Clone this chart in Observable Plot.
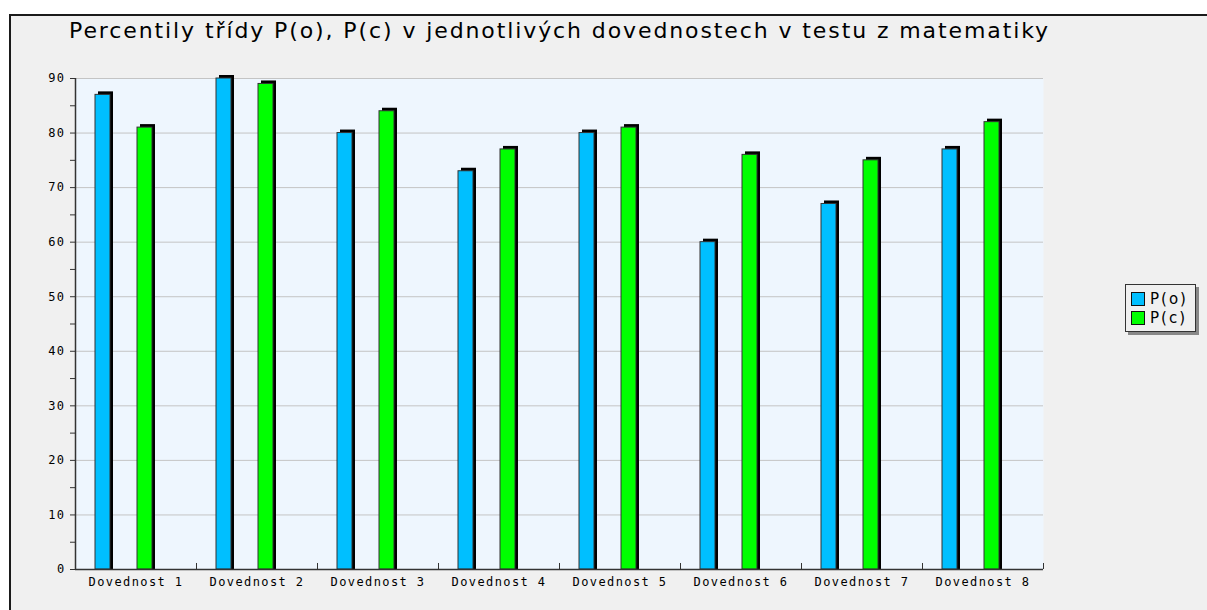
<!DOCTYPE html>
<html>
<head>
<meta charset="utf-8">
<script src="https://cdn.jsdelivr.net/npm/d3@7"></script>
<script src="https://cdn.jsdelivr.net/npm/@observablehq/plot@0.6"></script>
<style>
  html, body { margin: 0; padding: 0; background: #ffffff; }
  #root { position: relative; width: 1207px; height: 610px; overflow: hidden; background: #ffffff; }
  #frame { position: absolute; left: 9px; top: 14px; width: 1210px; height: 610px;
           border-left: 2px solid #1a1a1a; border-top: 2px solid #1a1a1a; background: #f0f0f0; box-sizing: border-box; }
  #title { position: absolute; left: 0; width: 1119px; top: 18px; text-align: center;
           font-family: "DejaVu Sans", Verdana, sans-serif; font-size: 22px; letter-spacing: 1.9px; color: #000; white-space: nowrap; }
  #chart { position: absolute; left: 0; top: 0; }
  #legend { position: absolute; left: 1125px; top: 284px; width: 71px; height: 48px; box-sizing: border-box;
            border: 1px solid #333; background: #f0f0f0; box-shadow: 3px 3px 0 #888;
            font-family: "DejaVu Sans", Verdana, sans-serif; font-size: 15px; letter-spacing: 2px; color: #000; padding: 4px 0 0 5px; }
  .item { display: flex; align-items: center; height: 19px; }
  .sw { width: 14px; height: 14px; border: 1px solid #111; margin-right: 5px; box-sizing: border-box; }
</style>
</head>
<body>
<div id="root">
  <div id="frame"></div>
  <div id="title"></div>
  <div id="chart"></div>
  <div id="legend"></div>
</div>
<script>
const titleText = "Percentily třídy P(o), P(c) v jednotlivých dovednostech v testu z matematiky";
const categories = ["Dovednost 1","Dovednost 2","Dovednost 3","Dovednost 4","Dovednost 5","Dovednost 6","Dovednost 7","Dovednost 8"];
const seriesNames = ["P(o)", "P(c)"];
const valuesPo = [87, 90, 80, 73, 80, 60, 67, 77];
const valuesPc = [81, 89, 84, 77, 81, 76, 75, 82];
const seriesColors = ["#00bfff", "#00ff00"];
const yMajorTicks = [0, 10, 20, 30, 40, 50, 60, 70, 80, 90];
const yMinorTicks = [5, 15, 25, 35, 45, 55, 65, 75, 85];

document.getElementById("title").textContent = titleText;

const dataPo = categories.map((c, i) => ({cat: c, value: valuesPo[i]}));
const dataPc = categories.map((c, i) => ({cat: c, value: valuesPc[i]}));

const W = 1207, H = 610;
const mL = 75, mR = 164, mT = 78, mB = 41;
const band = (W - mL - mR) / categories.length;

function bars(data, color, left, width) {
  const insetLeft = left, insetRight = band - left - width;
  return [
    Plot.barY(data, {x: "cat", y: "value", fill: "#000", insetLeft, insetRight, dx: 3, insetTop: -3}),
    Plot.barY(data, {x: "cat", y: "value", fill: color, stroke: "#333", strokeWidth: 1, insetLeft, insetRight})
  ];
}

const chart = Plot.plot({
  width: W, height: H,
  marginLeft: mL, marginRight: mR, marginTop: mT, marginBottom: mB,
  style: {background: "transparent", fontFamily: "'DejaVu Sans Mono', monospace", fontSize: "12px", color: "#000"},
  x: {domain: categories, padding: 0, label: null},
  y: {domain: [0, 90], label: null},
  marks: [
    Plot.frame({fill: "#eef6fe", stroke: null}),
    Plot.gridY(yMajorTicks.slice(1), {stroke: "#c4c4c4", strokeOpacity: 1}),
    Plot.axisY(yMajorTicks, {tickSize: 5, tickPadding: 5, stroke: "#333", fill: "#000", label: null}),
    Plot.axisY(yMinorTicks, {tickSize: 5, text: null, stroke: "#333", label: null}),
    ...bars(dataPo, seriesColors[0], 20, 15),
    ...bars(dataPc, seriesColors[1], 62, 15),
    Plot.ruleX(categories, {x: d => d, y1: 0, y2: 1.1, dx: band / 2, stroke: "#333"}),
    Plot.ruleY([0], {stroke: "#333", strokeWidth: 1.5}),
    Plot.ruleX([categories[0]], {y1: 0, y2: 90, dx: -band / 2, stroke: "#333", strokeWidth: 1.5}),
    Plot.axisX({tickSize: 0, tickPadding: 8, label: null, fill: "#000"})
  ]
});
chart.querySelectorAll("text").forEach(t => t.style.letterSpacing = "1.4px");
document.getElementById("chart").appendChild(chart);

const legend = document.getElementById("legend");
seriesNames.forEach((name, i) => {
  const item = document.createElement("div");
  item.className = "item";
  const sw = document.createElement("div");
  sw.className = "sw";
  sw.style.background = seriesColors[i];
  const label = document.createElement("span");
  label.textContent = name;
  item.appendChild(sw);
  item.appendChild(label);
  legend.appendChild(item);
});
</script>
</body>
</html>
